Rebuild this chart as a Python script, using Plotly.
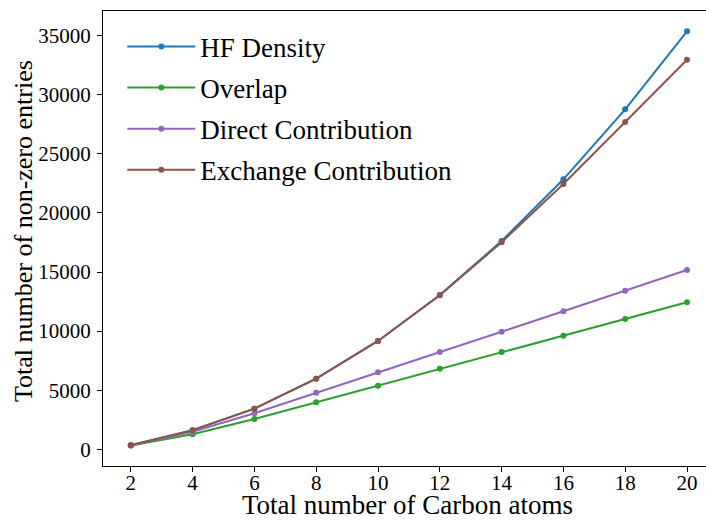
import plotly.graph_objects as go

# Number of carbon atoms in each chain
carbon_atoms = [2, 4, 6, 8, 10, 12, 14, 16, 18, 20]

# Non-zero entries per matrix
hf_density = [350, 1620, 3440, 5980, 9170, 13050, 17630, 22850, 28770, 35370]
overlap = [330, 1270, 2560, 3980, 5380, 6820, 8230, 9610, 11030, 12440]
direct_contribution = [340, 1490, 3050, 4790, 6520, 8230, 9950, 11680, 13420, 15170]
exchange_contribution = [350, 1610, 3440, 5980, 9170, 13030, 17520, 22450, 27700, 32970]

x_ticks = [2, 4, 6, 8, 10, 12, 14, 16, 18, 20]
y_ticks = [0, 5000, 10000, 15000, 20000, 25000, 30000, 35000]
y_tick_labels = [str(v) for v in y_ticks]

x_title = "Total number of Carbon atoms"
y_title = "Total number of non-zero entries"

series = [
    ("HF Density", hf_density, "#1f77b4"),
    ("Overlap", overlap, "#2ca02c"),
    ("Direct Contribution", direct_contribution, "#9467bd"),
    ("Exchange Contribution", exchange_contribution, "#8c564b"),
]

FONT = "Liberation Serif"

fig = go.Figure()
for name, values, color in series:
    fig.add_trace(go.Scatter(
        x=carbon_atoms, y=values, name=name, mode="lines+markers",
        line=dict(color=color, width=2),
        marker=dict(color=color, size=6),
        legendgroup=name,
    ))

fig.update_layout(
    width=706, height=521,
    margin=dict(l=103, r=0, t=11, b=55),
    paper_bgcolor="white", plot_bgcolor="white",
    font=dict(family=FONT, color="black", size=21),
    legend=dict(
        x=0.032, y=0.975, xanchor="left", yanchor="top",
        font=dict(family=FONT, size=27),
        bgcolor="rgba(255,255,255,0)",
        itemwidth=68, tracegroupgap=3,
    ),
    xaxis=dict(
        range=[1.1, 20.615], tickvals=x_ticks,
        showgrid=False, zeroline=False, automargin=False,
        showline=True, linecolor="black", linewidth=1, mirror=True,
        ticks="outside", ticklen=5, tickcolor="black",
        tickfont=dict(size=21), ticklabelstandoff=-7,
    ),
    yaxis=dict(
        range=[-1413, 37091], tickvals=y_ticks, ticktext=y_tick_labels,
        showgrid=False, zeroline=False, automargin=False,
        showline=True, linecolor="black", linewidth=1, mirror=False,
        ticks="outside", ticklen=5, tickcolor="black",
        tickfont=dict(size=21), ticklabelstandoff=2,
    ),
    annotations=[
        dict(text=x_title, xref="paper", yref="paper", x=0.5058, y=-0.1209,
             xanchor="center", yanchor="bottom", showarrow=False, borderpad=0,
             font=dict(family=FONT, size=27)),
        dict(text=y_title, xref="paper", yref="paper", x=-0.131, y=0.5165,
             xanchor="center", yanchor="middle", showarrow=False, textangle=-90,
             borderpad=0, font=dict(family=FONT, size=26)),
    ],
)

fig.write_html("out.html")
